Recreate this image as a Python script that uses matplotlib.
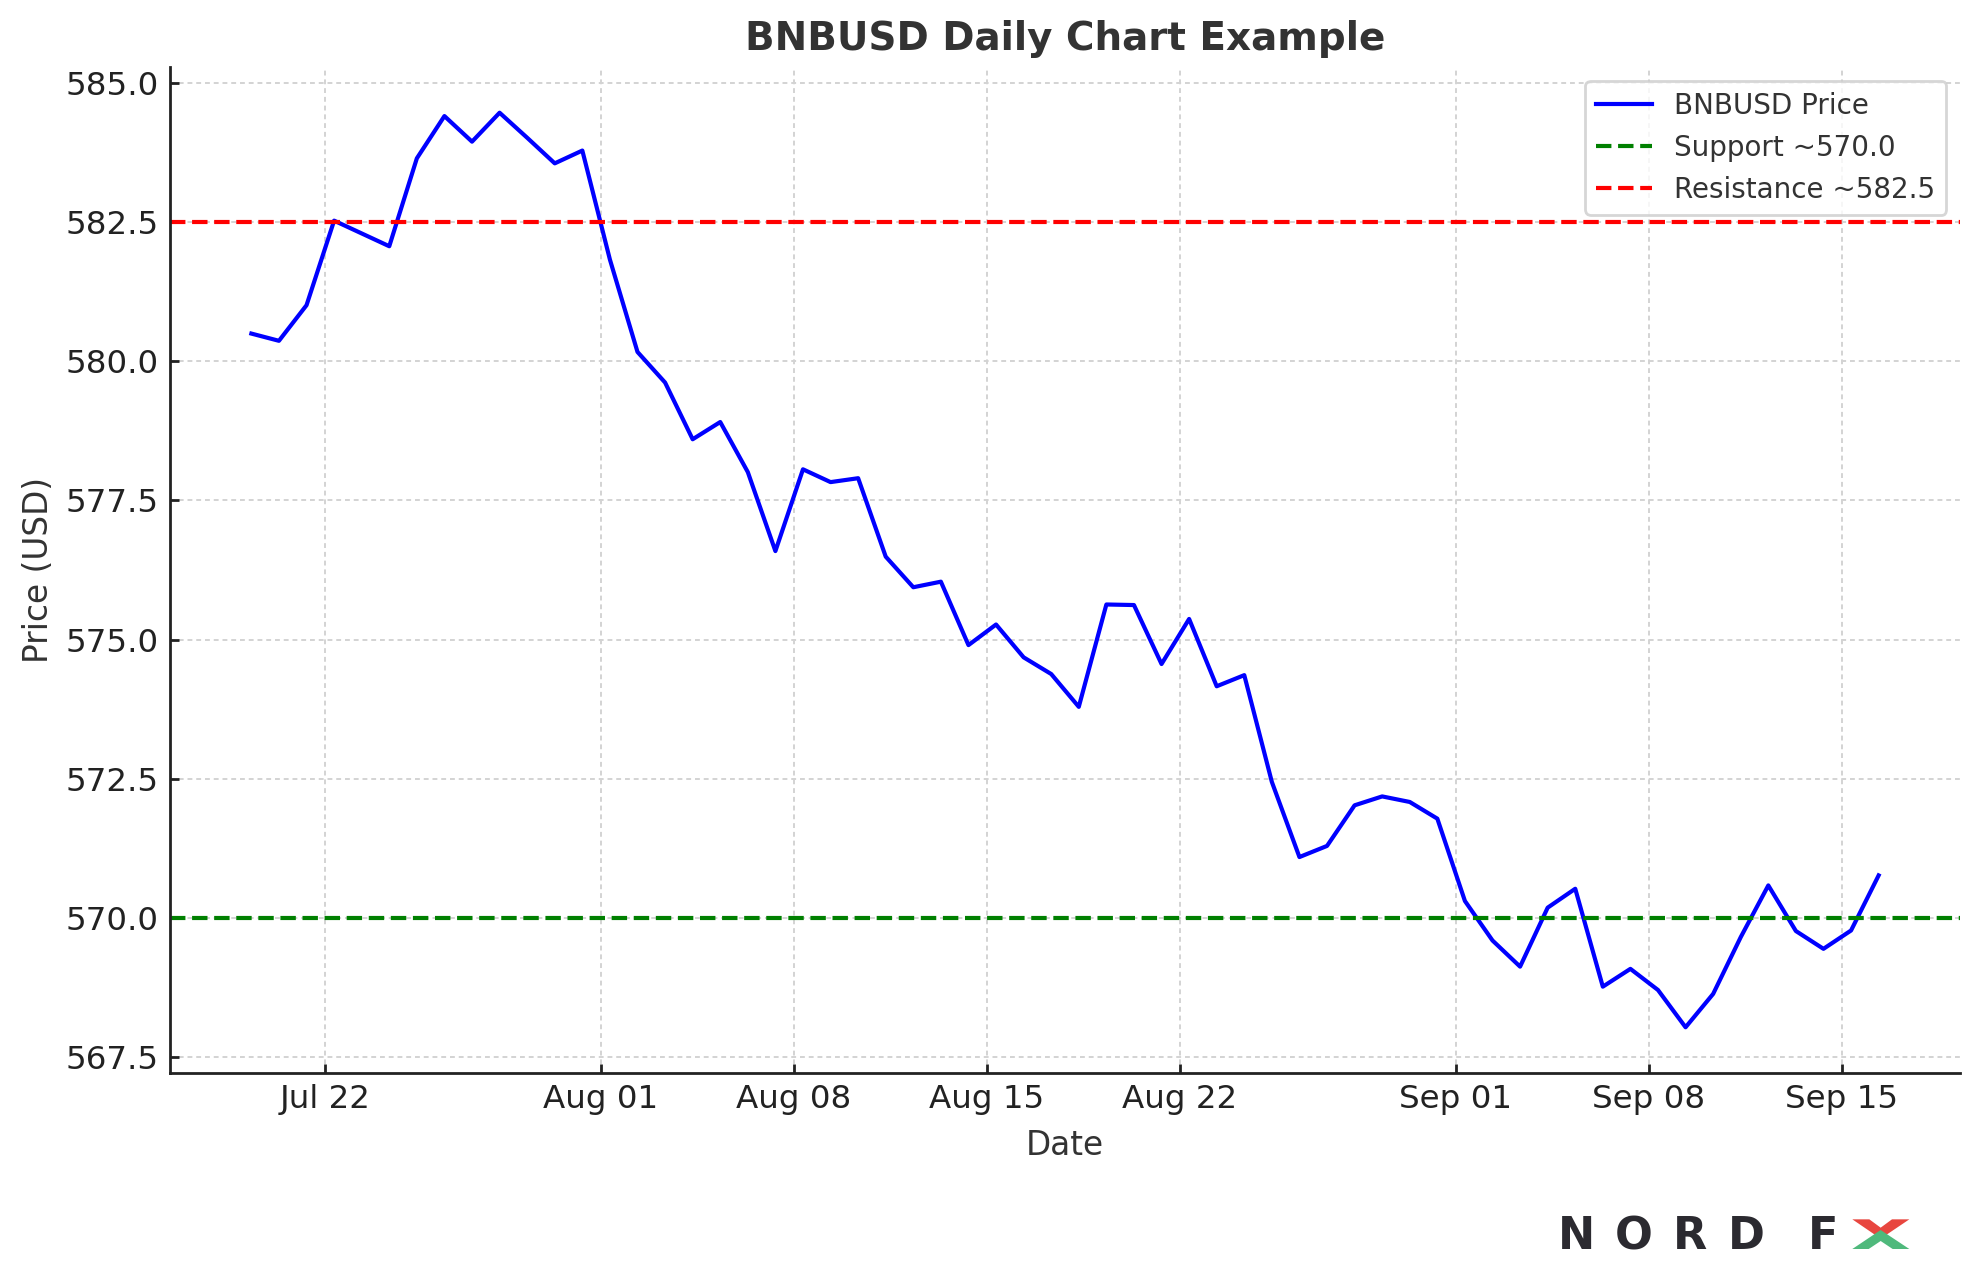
import numpy as np
import pandas as pd
import matplotlib
matplotlib.use("Agg")
import matplotlib.pyplot as plt
import matplotlib.dates as mdates
from matplotlib.patches import Polygon

# ---------------- data ----------------
start_time = "2024-07-19 08:00"
n_days = 60
prices = [
    580.50, 580.37, 581.01, 582.53, 582.30, 582.07, 583.65, 584.41, 583.95, 584.47,
    584.02, 583.56, 583.79, 581.83, 580.17, 579.62, 578.60, 578.91, 578.01, 576.59,
    578.06, 577.83, 577.90, 576.49, 575.94, 576.04, 574.90, 575.27, 574.68, 574.38,
    573.79, 575.63, 575.62, 574.56, 575.37, 574.16, 574.36, 572.44, 571.09, 571.29,
    572.02, 572.18, 572.08, 571.78, 570.30, 569.59, 569.12, 570.18, 570.52, 568.76,
    569.08, 568.70, 568.03, 568.63, 569.65, 570.58, 569.76, 569.44, 569.77, 570.76,
]
support = 570.0
resistance = 582.5
title = "BNBUSD Daily Chart Example"
xlabel = "Date"
ylabel = "Price (USD)"
series_label = "BNBUSD Price"

dates = pd.date_range(start=start_time, periods=n_days, freq="D")

# ---------------- figure ----------------
W, H, DPI = 1979, 1270, 200
fig = plt.figure(figsize=(W / DPI, H / DPI), dpi=DPI)
ax = fig.add_axes([170 / W, 1 - 1073 / H, (1960 - 170) / W, (1073 - 67) / H])

text_c = "#333333"
ax.plot(dates, prices, color="#0000ff", lw=1.5, label=series_label)
ax.axhline(support, color="green", ls="--", lw=1.5, label=f"Support ~{support:.1f}")
ax.axhline(resistance, color="red", ls="--", lw=1.5, label=f"Resistance ~{resistance:.1f}")

ax.set_title(title, fontsize=14, fontweight="bold", color=text_c)
ax.set_xlabel(xlabel, fontsize=11.8, color=text_c, labelpad=5)
ax.set_ylabel(ylabel, fontsize=11.8, color=text_c)

ax.xaxis.set_major_locator(mdates.DayLocator(bymonthday=[1, 8, 15, 22]))
ax.xaxis.set_major_formatter(mdates.DateFormatter("%b %d"))
ax.yaxis.set_major_formatter(matplotlib.ticker.FormatStrFormatter("%.1f"))

ax.tick_params(axis="both", direction="in", length=3.3, width=1.0,
               labelsize=11.7, colors="#222222", pad=4)
for s in ["top", "right"]:
    ax.spines[s].set_visible(False)
for s in ["left", "bottom"]:
    ax.spines[s].set_color("#222222")
    ax.spines[s].set_linewidth(1.0)

ax.grid(True, ls=(0, (2.5, 2.0)), color="#d3d3d3", lw=0.7)
ax.set_axisbelow(True)

leg = ax.legend(loc="upper right", fontsize=10, frameon=True, fancybox=True)
leg.get_frame().set_edgecolor("#cccccc")
for t in leg.get_texts():
    t.set_color(text_c)

# ---------------- logo ----------------
logo_c = "#2b2a30"
letters = [("N", 1576), ("O", 1634), ("R", 1690), ("D", 1746), ("F", 1823)]
for ch, cx in letters:
    fig.text(cx / W, 1 - 1249 / H, ch, ha="center", va="baseline",
             fontsize=16, fontweight="heavy", color=logo_c,
             family="DejaVu Sans")

def fig_pts(pts):
    return [((1500 + zx / 3) / W, 1 - (1180 + zy / 3) / H) for zx, zy in pts]

red_pts = [(1057, 118), (1108, 118), (1142, 143), (1176, 118), (1228, 118), (1142, 176)]
green_pts = [(1142, 150), (1228, 207), (1178, 207), (1142, 183), (1106, 207), (1057, 207)]
fig.patches.append(Polygon(fig_pts(red_pts), closed=True, transform=fig.transFigure,
                           facecolor="#e8463f", edgecolor="none"))
fig.patches.append(Polygon(fig_pts(green_pts), closed=True, transform=fig.transFigure,
                           facecolor="#4fb97c", edgecolor="none"))

fig.savefig("out.png", dpi=DPI)
